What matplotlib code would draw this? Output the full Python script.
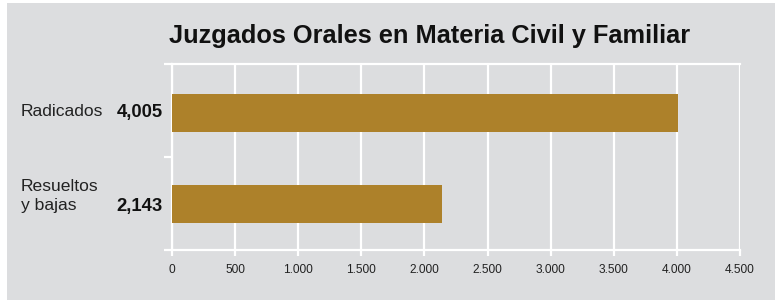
import matplotlib
matplotlib.use('Agg')
import matplotlib.pyplot as plt
from matplotlib.patches import Rectangle

# --- Data ---
categories = ['Radicados', 'Resueltos\ny bajas']
values = [4005, 2143]
value_labels = ['4,005', '2,143']
xticks = [0, 500, 1000, 1500, 2000, 2500, 3000, 3500, 4000, 4500]
xtick_labels = ['0', '500', '1.000', '1.500', '2.000', '2.500', '3.000', '3.500', '4.000', '4.500']

BG = '#DCDDDF'
BAR = '#AD812A'
W, H = 775, 301

plt.rcParams['font.family'] = ['Liberation Sans', 'DejaVu Sans']

fig = plt.figure(figsize=(W / 100, H / 100), dpi=100)
fig.patch.set_facecolor('white')
fig.patches.append(Rectangle((7 / W, 1 / H), 1 - 7 / W, 1 - 4 / H,
                             transform=fig.transFigure, facecolor=BG,
                             edgecolor='none', zorder=-5))

ax = fig.add_axes([172 / W, 1 - 250 / H, (740 - 172) / W, (250 - 64) / H])
ax.set_facecolor(BG)

ypos = list(range(len(values)))
ax.barh(ypos, values, height=0.415, color=BAR, zorder=3)
ax.set_xlim(0, 4500)
ax.set_ylim(1.5, -0.535)

# white grid / frame
for x in xticks:
    ax.axvline(x, color='white', linewidth=1.6, zorder=1)
for side in ['top', 'bottom', 'left']:
    ax.spines[side].set_color('white')
    ax.spines[side].set_linewidth(1.6)
ax.spines['right'].set_visible(False)

ax.set_xticks(xticks)
ax.set_xticklabels(xtick_labels, fontsize=8.6, color='#222222')
ax.tick_params(axis='x', colors='white', length=4, width=1.6, pad=6,
               labelcolor='#222222')
ax.set_yticks([-0.535, 0.48, 1.5])
ax.set_yticklabels([])
ax.tick_params(axis='y', colors='white', length=6, width=1.6)

# category labels and values
label_x = 21
value_x = 163
fig.text(label_x / W, 1 - 112 / H, categories[0], fontsize=12.6,
         color='#222222', va='center', ha='left')
fig.text(label_x / W, 1 - 196 / H, categories[1], fontsize=12.6,
         color='#222222', va='center', ha='left', linespacing=1.3)
for yc, lab in zip([112, 207], value_labels):
    fig.text(value_x / W, 1 - yc / H, lab, fontsize=13.3, fontweight='bold',
             color='#111111', va='center', ha='right')

fig.text(430 / W, 1 - 36 / H, 'Juzgados Orales en Materia Civil y Familiar',
         fontsize=18.3, fontweight='bold', color='#111111',
         ha='center', va='center')

fig.savefig('out.png', dpi=100, facecolor=fig.get_facecolor())
plt.close()
